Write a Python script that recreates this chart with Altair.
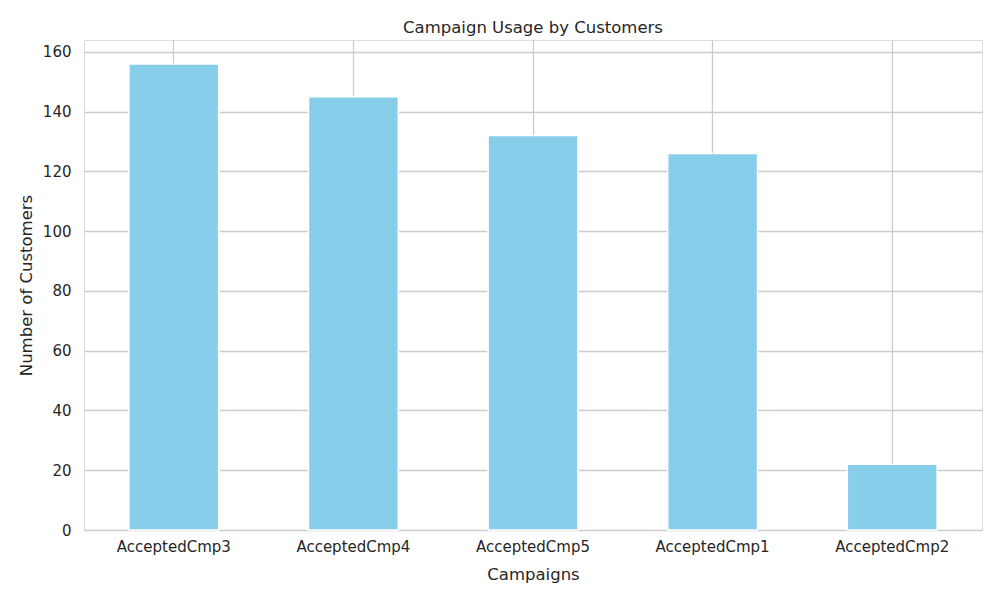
import altair as alt
import pandas as pd

campaigns = ["AcceptedCmp3", "AcceptedCmp4", "AcceptedCmp5", "AcceptedCmp1", "AcceptedCmp2"]
customers = [156, 145, 132, 126, 22]
y_ticks = [0, 20, 40, 60, 80, 100, 120, 140, 160]

df = pd.DataFrame({"Campaign": campaigns, "Customers": customers})

FONT = "DejaVu Sans"

chart = alt.Chart(df).mark_bar(
    color="#87CEEB", stroke="white", strokeWidth=1.5
).encode(
    x=alt.X(
        "Campaign:N",
        sort=campaigns,
        scale=alt.Scale(paddingInner=0.5, paddingOuter=0.25),
        axis=alt.Axis(
            title="Campaigns", labelAngle=0, ticks=False, domain=False,
            grid=True, gridColor="#cccccc", gridWidth=1.3, bandPosition=0.5,
            labelPadding=9, titlePadding=12, labelFontSize=15, titleFontSize=16.5,
            labelColor="#262626", titleColor="#262626", titleFontWeight="normal",
            labelFont=FONT, titleFont=FONT,
        ),
    ),
    y=alt.Y(
        "Customers:Q",
        scale=alt.Scale(domain=[0, 164], nice=False),
        axis=alt.Axis(
            title="Number of Customers", values=y_ticks, ticks=False, domain=False,
            grid=True, gridColor="#cccccc", gridWidth=1.3,
            labelPadding=13, titlePadding=8, labelFontSize=15, titleFontSize=16.5,
            labelColor="#262626", titleColor="#262626", titleFontWeight="normal",
            labelFont=FONT, titleFont=FONT,
        ),
    ),
).properties(
    width=898,
    height=490,
    title=alt.TitleParams(
        "Campaign Usage by Customers", font=FONT, fontSize=16.5,
        fontWeight="normal", color="#262626", offset=4,
    ),
    autosize=alt.AutoSizeParams(type="none"),
    padding={"left": 76, "top": 32, "right": 10, "bottom": 62},
).configure_view(
    stroke="#cccccc", strokeWidth=1.8
).configure(background="white")

chart.save("out.html", embed_options={"renderer": "svg", "actions": False})
